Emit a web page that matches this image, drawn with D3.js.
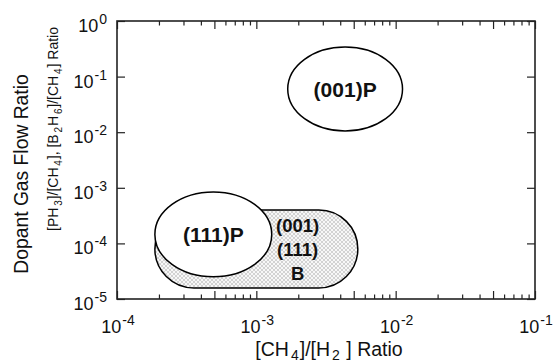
<!DOCTYPE html>
<html>
<head>
<meta charset="utf-8">
<script src="https://cdn.jsdelivr.net/npm/d3@7"></script>
<style>
  body { margin: 0; background: #fff; }
  svg { display: block; font-family: "Liberation Sans", Arial, Helvetica, sans-serif; }
</style>
</head>
<body>
<div id="chart"></div>
<script>
// axis ranges and ticks
const xDomain = [1e-4, 1e-1];
const yDomain = [1e-5, 1];
const xMajorExp = [-4, -3, -2, -1];
const yMajorExp = [-5, -4, -3, -2, -1, 0];
const minorMult = [2, 3, 4, 5, 6, 7, 8, 9];

// the elliptical regions (extent in data units)
const ellipseNames = ['(001)P', '(111)P'];
const ellipseXMin = [1.68e-3, 1.87e-4];
const ellipseXMax = [1.12e-2, 1.29e-3];
const ellipseYMin = [1.05e-2, 2.5e-5];
const ellipseYMax = [0.34, 8.4e-4];

// the boron doped region (rounded box)
const boxXMin = 1.87e-4;
const boxXMax = 5.35e-3;
const boxYMin = 1.58e-5;
const boxYMax = 4.0e-4;
const boxLabelX = 1.98e-3;
const boxLabels = ['(001)', '(111)', 'B'];

const W = 555, H = 362;
const margin = {top: 21, right: 20, bottom: 63, left: 117};
const plotW = W - margin.left - margin.right;
const plotH = H - margin.top - margin.bottom;

const svg = d3.select('#chart').append('svg')
    .attr('width', W)
    .attr('height', H);

// checker fill for the B region
const defs = svg.append('defs');
const pat = defs.append('pattern')
    .attr('id', 'checker')
    .attr('width', 4).attr('height', 4)
    .attr('patternUnits', 'userSpaceOnUse');
pat.append('rect').attr('width', 4).attr('height', 4).attr('fill', '#f7f7f7');
pat.append('rect').attr('width', 2).attr('height', 2).attr('fill', '#d2d2d2');
pat.append('rect').attr('x', 2).attr('y', 2).attr('width', 2).attr('height', 2).attr('fill', '#d2d2d2');

const g = svg.append('g')
    .attr('transform', 'translate(' + margin.left + ',' + margin.top + ')');

const scaleX = d3.scaleLog().domain(xDomain).range([0, plotW]);
const scaleY = d3.scaleLog().domain(yDomain).range([plotH, 0]);

// B region
const bx0 = scaleX(boxXMin), bx1 = scaleX(boxXMax);
const by0 = scaleY(boxYMax), by1 = scaleY(boxYMin);
const bRad = (by1 - by0) / 2;
g.append('rect')
    .attr('x', bx0).attr('y', by0)
    .attr('width', bx1 - bx0).attr('height', by1 - by0)
    .attr('rx', bRad).attr('ry', bRad)
    .attr('fill', 'url(#checker)')
    .attr('stroke', '#000')
    .attr('stroke-width', 1.5);

g.append('g').selectAll('text')
    .data(boxLabels)
    .enter().append('text')
    .attr('x', scaleX(boxLabelX))
    .attr('y', (d, i) => (by0 + by1) / 2 + (i - 1) * 24)
    .attr('dy', '0.36em')
    .attr('text-anchor', 'middle')
    .attr('font-size', 18.5)
    .attr('font-weight', 'bold')
    .attr('fill', '#111')
    .text(d => d);

// ellipses
const ellipses = ellipseNames.map((name, i) => ({
  name: name,
  x0: scaleX(ellipseXMin[i]), x1: scaleX(ellipseXMax[i]),
  y0: scaleY(ellipseYMax[i]), y1: scaleY(ellipseYMin[i])
}));
const eG = g.append('g').selectAll('g')
    .data(ellipses)
    .enter().append('g');
eG.append('ellipse')
    .attr('cx', d => (d.x0 + d.x1) / 2)
    .attr('cy', d => (d.y0 + d.y1) / 2)
    .attr('rx', d => (d.x1 - d.x0) / 2)
    .attr('ry', d => (d.y1 - d.y0) / 2)
    .attr('fill', '#fff')
    .attr('stroke', '#000')
    .attr('stroke-width', 1.5);
eG.append('text')
    .attr('x', d => (d.x0 + d.x1) / 2)
    .attr('y', d => (d.y0 + d.y1) / 2)
    .attr('dy', '0.36em')
    .attr('text-anchor', 'middle')
    .attr('font-size', 21)
    .attr('font-weight', 'bold')
    .attr('fill', '#111')
    .text(d => d.name);

// ticks, inward on all four sides
const xMajor = xMajorExp.map(e => Math.pow(10, e));
const yMajor = yMajorExp.map(e => Math.pow(10, e));
const xMid = [], xMinor = [];
xMajorExp.slice(0, -1).forEach(e => {
  minorMult.forEach(m => (m === 5 ? xMid : xMinor).push(m * Math.pow(10, e)));
});

function tickAxis(axisFn, values, size, transform) {
  const a = g.append('g')
      .attr('transform', transform)
      .call(axisFn.tickValues(values).tickSize(size).tickSizeOuter(0).tickFormat(''));
  a.select('.domain').remove();
  a.selectAll('line').attr('stroke', '#222').attr('stroke-width', 1.2);
}
tickAxis(d3.axisBottom(scaleX), xMajor.concat(xMid), -8, 'translate(0,' + plotH + ')');
tickAxis(d3.axisBottom(scaleX), xMinor, -4.5, 'translate(0,' + plotH + ')');
tickAxis(d3.axisTop(scaleX), xMajor.concat(xMid), -8, 'translate(0,0)');
tickAxis(d3.axisTop(scaleX), xMinor, -4.5, 'translate(0,0)');
tickAxis(d3.axisLeft(scaleY), yMajor, -8, 'translate(0,0)');
tickAxis(d3.axisRight(scaleY), yMajor, -8, 'translate(' + plotW + ',0)');

// frame
g.append('rect')
    .attr('width', plotW).attr('height', plotH)
    .attr('fill', 'none')
    .attr('stroke', '#222')
    .attr('stroke-width', 1.6);

// tick labels 10^n
function powLabel(sel, e) {
  sel.append('tspan').text('10');
  sel.append('tspan').attr('dx', 1).attr('dy', -8).attr('font-size', 14).text(String(e));
}
xMajorExp.forEach(e => {
  const t = g.append('text')
      .attr('x', scaleX(Math.pow(10, e)) + 1)
      .attr('y', plotH + 34)
      .attr('text-anchor', 'middle')
      .attr('font-size', 18)
      .attr('fill', '#111');
  powLabel(t, e);
});
yMajorExp.forEach(e => {
  const t = g.append('text')
      .attr('x', -10)
      .attr('y', scaleY(Math.pow(10, e)) + 11)
      .attr('text-anchor', 'end')
      .attr('font-size', 18)
      .attr('fill', '#111');
  powLabel(t, e);
});

// axis titles, with lowered subscripts
function subText(sel, parts, subSize, fontSize) {
  parts.forEach(p => {
    if (p.sub) {
      sel.append('tspan').attr('dx', 2).attr('dy', 4).attr('font-size', subSize).text(p.sub);
    } else {
      sel.append('tspan').attr('dx', 1).attr('dy', p.first ? 0 : -4).attr('font-size', fontSize).text(p.t);
    }
  });
}
const xTitle = g.append('text')
    .attr('x', plotW / 2 + 2)
    .attr('y', plotH + 57)
    .attr('text-anchor', 'middle')
    .attr('fill', '#111');
subText(xTitle, [{t: '[CH', first: true}, {sub: '4'}, {t: ']/[H'}, {sub: '2'}, {t: ' ] Ratio'}], 14, 19.5);

svg.append('text')
    .attr('transform', 'translate(21,' + (margin.top + plotH / 2 + 14) + ') rotate(-90)')
    .attr('dy', '0.36em')
    .attr('text-anchor', 'middle')
    .attr('font-size', 19.3)
    .attr('fill', '#111')
    .text('Dopant Gas Flow Ratio');

// the second y title is set narrow in the original, squeeze it to its length
const yTitle2 = svg.append('text')
    .attr('transform', 'translate(28,232) rotate(-90)')
    .attr('y', 30)
    .attr('textLength', 204)
    .attr('lengthAdjust', 'spacingAndGlyphs')
    .attr('fill', '#111');
subText(yTitle2, [{t: '[PH', first: true}, {sub: '3'}, {t: ']/[CH'}, {sub: '4'}, {t: '], [B'}, {sub: '2'}, {t: 'H'}, {sub: '6'}, {t: ']/[CH'}, {sub: '4'}, {t: '] Ratio'}], 11, 15.5);
</script>
</body>
</html>
